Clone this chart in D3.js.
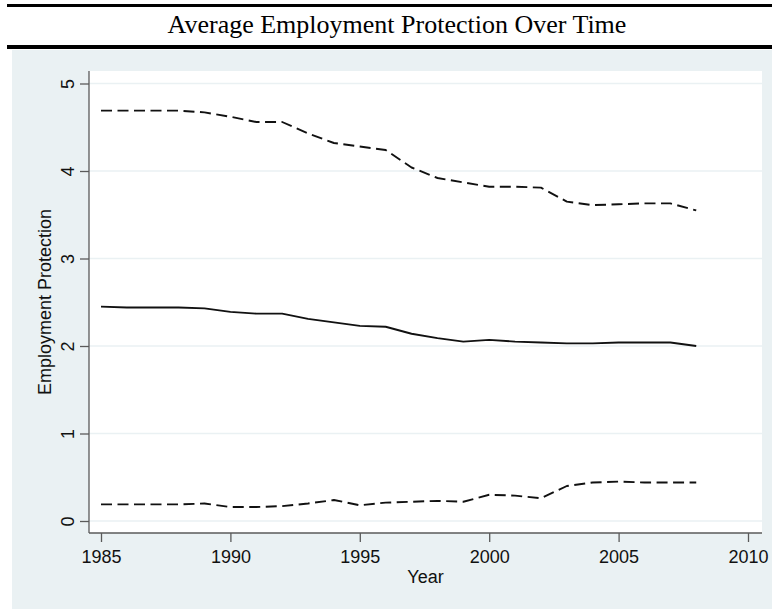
<!DOCTYPE html>
<html>
<head>
<meta charset="utf-8">
<script src="https://cdn.jsdelivr.net/npm/d3@7"></script>
<style>
  html, body { margin: 0; padding: 0; background: #ffffff; }
  svg { display: block; }
</style>
</head>
<body>
<svg id="chart" width="772" height="611"></svg>
<script>
// Years covered by the series
const years = d3.range(1985, 2009);

// Highest employment protection score across countries (dashed, top)
const maxEP = [4.69, 4.69, 4.69, 4.69, 4.67, 4.62, 4.56, 4.56, 4.43, 4.32, 4.28, 4.24,
               4.04, 3.92, 3.87, 3.82, 3.82, 3.81, 3.65, 3.61, 3.62, 3.63, 3.63, 3.55];

// Average employment protection score (solid, middle)
const meanEP = [2.45, 2.44, 2.44, 2.44, 2.43, 2.39, 2.37, 2.37, 2.31, 2.27, 2.23, 2.22,
                2.14, 2.09, 2.05, 2.07, 2.05, 2.04, 2.03, 2.03, 2.04, 2.04, 2.04, 2.00];

// Lowest employment protection score across countries (dashed, bottom)
const minEP = [0.19, 0.19, 0.19, 0.19, 0.20, 0.16, 0.16, 0.17, 0.20, 0.24, 0.18, 0.21,
               0.22, 0.23, 0.22, 0.30, 0.29, 0.26, 0.40, 0.44, 0.45, 0.44, 0.44, 0.44];

const xTicks = [1985, 1990, 1995, 2000, 2005, 2010];
const yTicks = [0, 1, 2, 3, 4, 5];

const titleText = "Average Employment Protection Over Time";
const xTitle = "Year";
const yTitle = "Employment Protection";

const svg = d3.select("#chart");
const W = 772, H = 611;

const bgColor = "#eaf1f3";
const gridColor = "#eaf1f3";
const axisColor = "#5a5a5a";
const sansFont = "'Liberation Sans', Arial, sans-serif";

// Plot region
const plot = { left: 89, right: 762, top: 71, bottom: 533 };

const x = d3.scaleLinear().domain([1985, 2010]).range([101, 748]);
const y = d3.scaleLinear().domain([0, 5]).range([521, 83.5]);

// Title band rules
svg.append("rect").attr("x", 7).attr("y", 4).attr("width", W - 7).attr("height", 3).attr("fill", "#000");
svg.append("rect").attr("x", 7).attr("y", 45).attr("width", W - 7).attr("height", 4).attr("fill", "#000");

svg.append("text")
  .attr("x", 397).attr("y", 33)
  .attr("text-anchor", "middle")
  .attr("font-family", "'Liberation Serif', 'Times New Roman', serif")
  .attr("font-size", 26)
  .attr("fill", "#000")
  .text(titleText);

// Graph background
svg.append("rect").attr("x", 12).attr("y", 50).attr("width", W - 12).attr("height", 559).attr("fill", bgColor);

// Plot area
svg.append("rect")
  .attr("x", plot.left).attr("y", plot.top)
  .attr("width", plot.right - plot.left).attr("height", plot.bottom - plot.top)
  .attr("fill", "#ffffff");

// Horizontal gridlines
svg.append("g").selectAll("line").data(yTicks).join("line")
  .attr("x1", plot.left).attr("x2", plot.right)
  .attr("y1", d => y(d)).attr("y2", d => y(d))
  .attr("stroke", gridColor).attr("stroke-width", 1.5);

// Y axis
const yAxis = svg.append("g")
  .attr("transform", `translate(${plot.left},0)`)
  .call(d3.axisLeft(y).tickValues(yTicks).tickFormat(d3.format("d")).tickSize(9).tickSizeOuter(0));
yAxis.select(".domain").attr("d", `M0,${plot.top}V${plot.bottom}`).attr("stroke", axisColor).attr("stroke-width", 1.3);
yAxis.selectAll(".tick line").attr("stroke", axisColor).attr("stroke-width", 1.3);
yAxis.selectAll(".tick text")
  .attr("x", null).attr("dy", null)
  .attr("transform", "translate(-15,0) rotate(-90)")
  .attr("text-anchor", "middle")
  .attr("font-family", sansFont).attr("font-size", 18).attr("fill", "#111");

// X axis
const xAxis = svg.append("g")
  .attr("transform", `translate(0,${plot.bottom})`)
  .call(d3.axisBottom(x).tickValues(xTicks).tickFormat(d3.format("d")).tickSize(9).tickSizeOuter(0));
xAxis.select(".domain").attr("d", `M${plot.left},0H${plot.right}`).attr("stroke", axisColor).attr("stroke-width", 1.3);
xAxis.selectAll(".tick line").attr("stroke", axisColor).attr("stroke-width", 1.3);
xAxis.selectAll(".tick text")
  .attr("y", 30).attr("dy", null)
  .attr("font-family", sansFont).attr("font-size", 18).attr("fill", "#111");

// Axis titles
svg.append("text")
  .attr("x", (plot.left + plot.right) / 2).attr("y", 583)
  .attr("text-anchor", "middle")
  .attr("font-family", sansFont).attr("font-size", 18).attr("fill", "#111")
  .text(xTitle);

svg.append("text")
  .attr("transform", `translate(51,${(plot.top + plot.bottom) / 2}) rotate(-90)`)
  .attr("text-anchor", "middle")
  .attr("font-family", sansFont).attr("font-size", 18).attr("fill", "#111")
  .text(yTitle);

// Series lines
const series = [
  { values: maxEP, dash: "11,5.5" },
  { values: meanEP, dash: null },
  { values: minEP, dash: "11,5.5" }
];

const line = d3.line().x(d => x(d[0])).y(d => y(d[1]));

svg.append("g").selectAll("path").data(series).join("path")
  .attr("d", s => line(years.map((yr, i) => [yr, s.values[i]])))
  .attr("fill", "none")
  .attr("stroke", "#111")
  .attr("stroke-width", 1.9)
  .attr("stroke-linejoin", "round")
  .attr("stroke-dasharray", s => s.dash);
</script>
</body>
</html>
